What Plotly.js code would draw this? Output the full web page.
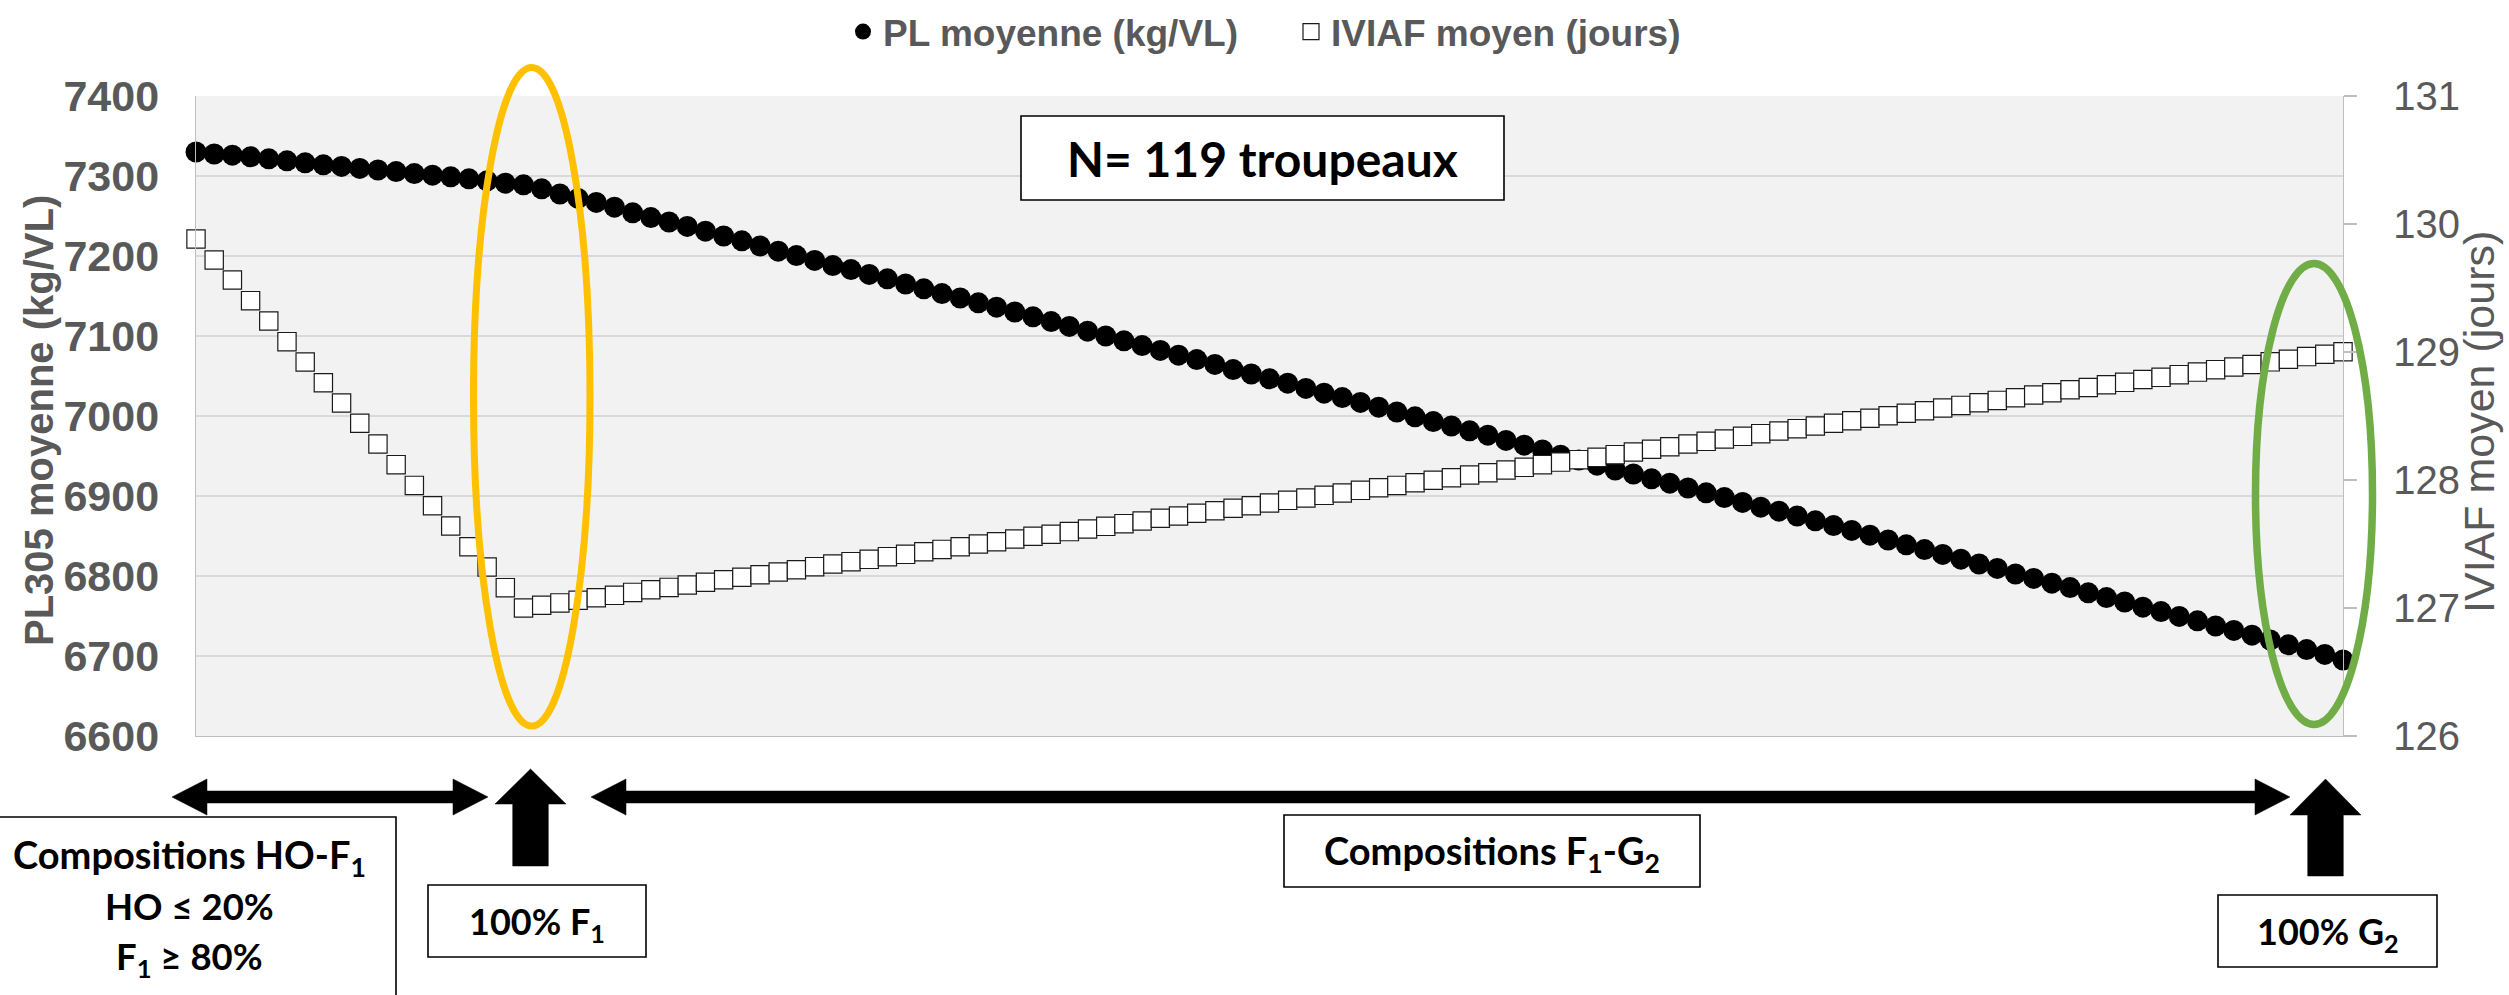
<!DOCTYPE html>
<html>
<head>
<meta charset="utf-8">
<script src="https://cdn.plot.ly/plotly-3.0.1.min.js"></script>
<style>
  html, body { margin: 0; padding: 0; background: #ffffff; }
  #chart { width: 2509px; height: 995px; }
</style>
</head>
<body>
<div id="chart"></div>
<script>
// ---- Data (one point per herd composition step) ----
const seriesNames = ["PL moyenne (kg/VL)", "IVIAF moyen (jours)"];

const plMoyenne = [
  7330, 7327.5, 7326, 7324, 7321.5, 7319, 7316.5, 7314, 7312, 7309.5,
  7307.5, 7305.5, 7303, 7301, 7299, 7296.5, 7294, 7291, 7289, 7284,
  7277.5, 7272, 7267, 7261, 7254, 7248, 7242.5, 7237, 7231, 7225,
  7219, 7212.5, 7206, 7200.5, 7194.5, 7188, 7183, 7177, 7171.5, 7165,
  7159, 7153, 7147.5, 7141.5, 7136, 7130, 7124, 7118, 7112, 7106,
  7100, 7094, 7088, 7082, 7076, 7070.5, 7064.5, 7058, 7052.5, 7046.5,
  7041, 7034.5, 7028.5, 7023, 7017, 7011, 7005, 6999, 6993, 6987.5,
  6981.5, 6976, 6969.5, 6963.5, 6957.5, 6951, 6945, 6938.5, 6932.5, 6927.5,
  6921.5, 6916, 6910, 6904, 6898, 6892, 6886, 6881, 6875, 6869,
  6863, 6857, 6851, 6845, 6839, 6833, 6827, 6821, 6815, 6809.5,
  6802.5, 6797, 6791, 6785.5, 6779, 6773, 6767.5, 6761, 6755.5, 6749.5,
  6744, 6737.5, 6732, 6726, 6720, 6714, 6708, 6702, 6695
];

const iviafMoyen = [
  129.883, 129.719, 129.563, 129.401, 129.242, 129.081, 128.922, 128.760, 128.602, 128.443,
  128.281, 128.120, 127.958, 127.799, 127.641, 127.479, 127.320, 127.159, 127.000, 127.022,
  127.040, 127.060, 127.080, 127.099, 127.122, 127.142, 127.161, 127.180, 127.201, 127.221,
  127.240, 127.260, 127.281, 127.299, 127.323, 127.344, 127.362, 127.380, 127.401, 127.419,
  127.440, 127.458, 127.479, 127.500, 127.518, 127.539, 127.560, 127.576, 127.597, 127.617,
  127.638, 127.659, 127.680, 127.701, 127.719, 127.740, 127.760, 127.779, 127.799, 127.820,
  127.841, 127.859, 127.880, 127.898, 127.919, 127.940, 127.958, 127.979, 127.998, 128.018,
  128.039, 128.057, 128.078, 128.099, 128.120, 128.140, 128.159, 128.177, 128.198, 128.219,
  128.240, 128.260, 128.281, 128.302, 128.320, 128.341, 128.362, 128.383, 128.401, 128.422,
  128.443, 128.463, 128.482, 128.502, 128.521, 128.541, 128.563, 128.583, 128.604, 128.622,
  128.643, 128.664, 128.682, 128.705, 128.723, 128.744, 128.763, 128.785, 128.802, 128.823,
  128.843, 128.862, 128.883, 128.902, 128.923, 128.943, 128.964, 128.982, 129.002
];

const leftTickValues = [6600, 6700, 6800, 6900, 7000, 7100, 7200, 7300, 7400];
const rightTickValues = [126, 127, 128, 129, 130, 131];

const leftTitle = "PL305 moyenne (kg/VL)";
const rightTitle = "IVIAF moyen (jours)";
const boxTexts = {
  n: "N= 119 troupeaux",
  hoF1: ["Compositions HO-F<sub>1</sub>", "HO ≤ 20%", "F<sub>1</sub> ≥ 80%"],
  f1: "100% F<sub>1</sub>",
  f1g2: "Compositions F<sub>1</sub>-G<sub>2</sub>",
  g2: "100% G<sub>2</sub>"
};

// composition step index (x position of each point)
const compositionStep = plMoyenne.map((v, i) => i);

// ---- Layout geometry (pixels) ----
const W = 2509, H = 995;
const PL = 196, PR = 2343, PT = 96, PB = 736;
const px = x => (x - PL) / (PR - PL);
const py = y => (PB - y) / (PB - PT);
const pathFrom = pts => 'M ' + pts.map(p => px(p[0]).toFixed(5) + ',' + py(p[1]).toFixed(5)).join(' L ') + ' Z';

const GRAY = '#595959';
const AXISGRAY = '#BFBFBF';
const SANS = 'Liberation Sans, Arial, sans-serif';
const BOXFONT = 'Lato, Carlito, Calibri, sans-serif';

function doubleArrow(x0, x1, yc) {
  const hl = 35, hh = 18, sh = 6;
  return pathFrom([
    [x0, yc], [x0 + hl, yc - hh], [x0 + hl, yc - sh], [x1 - hl, yc - sh],
    [x1 - hl, yc - hh], [x1, yc], [x1 - hl, yc + hh], [x1 - hl, yc + sh],
    [x0 + hl, yc + sh], [x0 + hl, yc + hh]
  ]);
}
function upArrow(xc, yTip, yBase, yBottom) {
  const hw = 35.5, sw = 17.8;
  return pathFrom([
    [xc, yTip], [xc + hw, yBase], [xc + sw, yBase], [xc + sw, yBottom],
    [xc - sw, yBottom], [xc - sw, yBase], [xc - hw, yBase]
  ]);
}
function rectShape(x0, y0, x1, y1) {
  return {
    type: 'rect', xref: 'paper', yref: 'paper', layer: 'above',
    x0: px(x0), x1: px(x1), y0: py(y1), y1: py(y0),
    fillcolor: '#ffffff', line: { color: '#000000', width: 1.6 }
  };
}
function arrowShape(path) {
  return { type: 'path', xref: 'paper', yref: 'paper', layer: 'above', path: path,
           fillcolor: '#000000', line: { color: '#000000', width: 0.5 } };
}
function boxLabel(text, xc, yc, size) {
  return {
    xref: 'paper', yref: 'paper', x: px(xc), y: py(yc), xanchor: 'center', yanchor: 'middle',
    text: text, showarrow: false,
    font: { family: BOXFONT, size: size, color: '#000000', weight: 'bold' }
  };
}
function axisTitle(text, xc, yc, size, weight) {
  return {
    xref: 'paper', yref: 'paper', x: px(xc), y: py(yc), xanchor: 'center', yanchor: 'middle',
    text: text, showarrow: false, textangle: -90, borderpad: 0,
    font: { family: SANS, size: size, color: GRAY, weight: weight }
  };
}
function legendAt(xLeft) {
  return {
    orientation: 'h', x: px(xLeft), xanchor: 'left', y: py(32), yanchor: 'middle',
    font: { family: SANS, size: 37, color: GRAY, weight: 'bold' },
    bgcolor: 'rgba(0,0,0,0)', borderwidth: 0, itemsizing: 'trace'
  };
}

const traces = [
  {
    type: 'scatter', mode: 'markers', name: seriesNames[0], legend: 'legend',
    x: compositionStep, y: plMoyenne, yaxis: 'y', cliponaxis: false,
    marker: { symbol: 'circle', size: 21, color: '#000000', line: { width: 0 } }
  },
  {
    type: 'scatter', mode: 'markers', name: seriesNames[1], legend: 'legend2',
    x: compositionStep, y: iviafMoyen, yaxis: 'y2', cliponaxis: false,
    marker: { symbol: 'square', size: 18.3, color: '#ffffff', line: { color: '#1a1a1a', width: 1.2 } }
  }
];

const layout = {
  width: W, height: H,
  margin: { l: PL, r: W - PR, t: PT, b: H - PB, pad: 0, autoexpand: false },
  paper_bgcolor: '#ffffff',
  plot_bgcolor: '#F2F2F2',
  showlegend: true,
  legend: legendAt(843),
  legend2: legendAt(1291),
  xaxis: {
    range: [0, compositionStep.length - 1], showgrid: false, zeroline: false,
    showline: true, linecolor: AXISGRAY, linewidth: 1.3, showticklabels: false, ticks: ''
  },
  yaxis: {
    range: [6600, 7400], tickvals: leftTickValues, ticktext: leftTickValues.map(String),
    showgrid: true, gridcolor: '#D9D9D9', gridwidth: 1.3, zeroline: false,
    showline: true, linecolor: AXISGRAY, linewidth: 1.3, ticks: '',
    ticklabelstandoff: 27,
    tickfont: { family: SANS, size: 43, color: GRAY, weight: 'bold' }
  },
  yaxis2: {
    overlaying: 'y', side: 'right', range: [126, 131], tickvals: rightTickValues,
    ticktext: rightTickValues.map(String),
    showgrid: false, zeroline: false, showline: true, linecolor: AXISGRAY, linewidth: 1.3,
    ticks: 'outside', ticklen: 13, tickcolor: AXISGRAY, tickwidth: 1.3,
    ticklabelstandoff: 28,
    tickfont: { family: SANS, size: 40, color: GRAY }
  },
  shapes: [
    // highlight ellipses
    { type: 'circle', xref: 'paper', yref: 'paper', layer: 'above',
      x0: px(473.5), x1: px(590), y0: py(726), y1: py(67.5),
      line: { color: '#FFC000', width: 7 } },
    { type: 'circle', xref: 'paper', yref: 'paper', layer: 'above',
      x0: px(2255.5), x1: px(2372.5), y0: py(724.5), y1: py(263.5),
      line: { color: '#70AD47', width: 7.5 } },
    // arrows below the plot
    arrowShape(doubleArrow(172, 488, 797)),
    arrowShape(doubleArrow(591, 2290, 797)),
    arrowShape(upArrow(530.5, 769, 804, 866)),
    arrowShape(upArrow(2325.5, 779, 815, 876)),
    // label boxes
    rectShape(-5, 817, 396, 1002),
    rectShape(428, 885, 646, 957),
    rectShape(1284, 815, 1700, 887),
    rectShape(2218, 895, 2437, 967),
    rectShape(1021, 116, 1504, 200)
  ],
  annotations: [
    axisTitle(leftTitle, 39, 421, 40, 'bold'),
    axisTitle(rightTitle, 2479, 422, 43, 'normal'),
    boxLabel(boxTexts.n, 1262.5, 158, 48),
    boxLabel(boxTexts.hoF1[0], 189, 857, 38),
    boxLabel(boxTexts.hoF1[1], 189, 906, 36.5),
    boxLabel(boxTexts.hoF1[2], 189, 958, 36.5),
    boxLabel(boxTexts.f1, 537, 923, 36),
    boxLabel(boxTexts.f1g2, 1492, 853, 38),
    boxLabel(boxTexts.g2, 2328, 933, 36)
  ]
};

Plotly.newPlot('chart', traces, layout, { staticPlot: true, displayModeBar: false });
</script>
</body>
</html>
